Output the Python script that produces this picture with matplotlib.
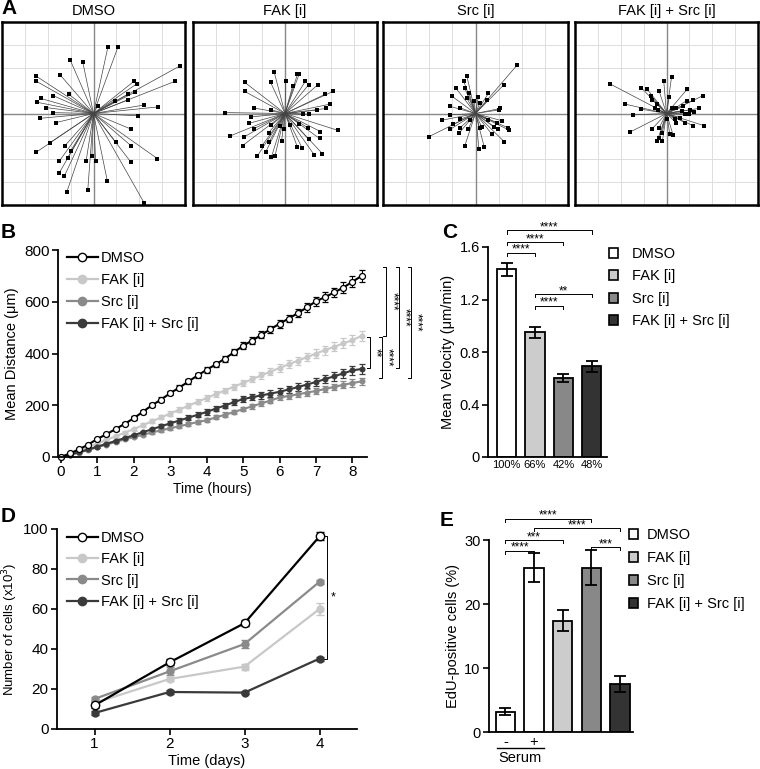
import matplotlib.pyplot as plt
from matplotlib.lines import Line2D
from matplotlib.patches import Patch

plt.rcParams['font.family'] = ['Liberation Sans', 'DejaVu Sans']

W, H = 760, 769

groups = ['DMSO', 'FAK [i]', 'Src [i]', 'FAK [i] + Src [i]']
line_colors = ['black', '#c8c8c8', '#8a8a8a', '#3a3a3a']
bar_colors = ['white', '#cccccc', '#888888', '#333333']

# A: end points of single-cell tracks (um), all tracks start at the origin
tracks_dmso = [(63, 291), (107, 291), (-101, 232), (-47, 225), (376, 207), (357, 141),
               (-250, 163), (-250, 141), (-146, 169), (176, 140), (188, 129), (181, 93),
               (-231, 66), (-246, 49), (-209, 26), (-176, 78), (-109, 85), (-179, 4),
               (-165, -40), (-234, -21), (93, 56), (149, 59), (221, 37), (284, 29),
               (193, -10), (166, -69), (-191, -128), (-250, -169), (-124, -140), (-99, -162),
               (163, -140), (97, -125), (-113, -194), (-150, -209), (-150, -260), (-128, -275),
               (-116, -341), (-25, -334), (-32, -206), (-7, -187), (9, -209), (60, -293),
               (163, -212), (279, -197), (221, -390), (19, 34), (151, 85)]
tracks_fak = [(-47, 181), (54, 171), (62, 174), (88, 140), (-176, 137), (-63, 137),
              (3, 144), (103, 126), (143, 126), (-176, 97), (34, 122), (210, 97),
              (176, 85), (196, 41), (-260, 4), (-135, 24), (-59, 16), (-147, -15),
              (140, 15), (179, 22), (78, -3), (106, -3), (-157, -43), (-240, -99),
              (-179, -103), (-135, -66), (-71, -84), (-59, -51), (-22, -54), (63, -44),
              (99, -62), (154, -79), (150, -109), (231, -74), (-184, -140), (-99, -140),
              (-69, -124), (-121, -187), (-84, -168), (-59, -190), (-44, -187), (54, -147),
              (74, -150), (128, -182), (162, -175), (103, -113), (-15, -121), (-4, -69),
              (22, -51)]
tracks_src = [(181, 213), (122, 125), (-37, 162), (-51, 141), (-47, 112), (-84, 110),
              (-28, 90), (-101, 75), (-37, 66), (12, 71), (-6, 56), (56, 88),
              (51, 59), (-109, 31), (-69, 26), (19, 46), (107, 22), (103, 16),
              (-143, -29), (-109, -6), (-96, -47), (-65, -25), (-69, -65), (-32, -69),
              (-109, -69), (-72, -87), (-47, -143), (-201, -101), (15, -157), (38, -147),
              (71, -91), (96, -69), (93, -40), (115, -32), (140, -62), (144, -72),
              (125, -124), (19, -65), (26, -57), (78, -57), (-25, -28), (56, -29)]
tracks_combo = [(-246, 129), (-110, 112), (-85, 107), (-12, 141), (22, 159), (-32, 97),
                (12, 74), (-69, 78), (-62, 59), (-181, 41), (-41, 41), (88, 56),
                (118, 59), (159, 78), (91, 107), (-51, 22), (-110, 19), (-37, 16),
                (-147, -6), (22, 22), (41, 26), (74, 31), (66, 12), (81, -3),
                (100, -3), (103, 16), (140, 22), (122, 7), (166, -54), (118, -54),
                (81, -40), (41, -40), (59, -18), (-159, -81), (-62, -66), (-19, -84),
                (15, -91), (29, -94), (-32, -62), (-41, -121), (-18, -121), (-32, -109),
                (3, -25), (37, -25)]

# B: mean distance over time
hours = [0, 0.25, 0.5, 0.75, 1, 1.25, 1.5, 1.75, 2, 2.25, 2.5, 2.75, 3, 3.25, 3.5, 3.75, 4,
         4.25, 4.5, 4.75, 5, 5.25, 5.5, 5.75, 6, 6.25, 6.5, 6.75, 7, 7.25, 7.5, 7.75, 8, 8.25]
dist_dmso = [0, 14, 30, 48, 70, 88, 108, 128, 150, 175, 200, 222, 247, 268, 292, 315, 337,
             358, 380, 405, 430, 450, 472, 494, 515, 535, 556, 578, 602, 618, 636, 655, 677, 700]
dist_fak = [0, 11, 24, 38, 52, 66, 80, 94, 108, 123, 138, 153, 168, 183, 198, 213, 228,
            243, 257, 272, 286, 301, 315, 330, 344, 358, 372, 386, 400, 413, 426, 439, 452, 468]
dist_src = [0, 8, 17, 27, 38, 48, 58, 68, 77, 86, 95, 103, 111, 119, 127, 135, 142,
            153, 163, 174, 185, 196, 207, 218, 230, 236, 242, 249, 255, 263, 271, 279, 286, 292]
dist_combo = [0, 9, 19, 29, 40, 51, 62, 73, 84, 96, 107, 119, 130, 141, 152, 163, 174,
              187, 199, 212, 224, 231, 238, 245, 252, 261, 270, 280, 290, 301, 312, 323, 335, 340]
err_dmso = [0, 2, 3, 4, 5, 5, 6, 6, 7, 7, 8, 8, 9, 9, 10, 10, 11, 11, 12, 12, 13, 13, 14,
            14, 15, 15, 16, 16, 17, 18, 19, 20, 21, 22]
err_fak = [0, 2, 3, 3, 4, 5, 5, 6, 6, 7, 7, 8, 8, 9, 9, 10, 10, 11, 11, 12, 12, 13, 13,
           14, 14, 15, 15, 16, 17, 17, 18, 19, 19, 20]
err_src = [0, 1, 2, 2, 3, 3, 4, 4, 5, 5, 5, 6, 6, 7, 7, 7, 8, 8, 9, 9, 9, 10, 10, 11, 11,
           11, 12, 12, 13, 13, 13, 14, 14, 15]
err_combo = [0, 2, 2, 3, 4, 4, 5, 5, 6, 6, 7, 7, 8, 8, 9, 9, 10, 10, 11, 11, 12, 12, 13,
             13, 14, 14, 15, 15, 16, 16, 17, 17, 18, 19]

# C: mean velocity
velocity = [1.43, 0.95, 0.60, 0.69]
velocity_err = [0.05, 0.04, 0.03, 0.045]
velocity_pct = ['100%', '66%', '42%', '48%']

# D: cell numbers
days = [1, 2, 3, 4]
cells_dmso = [11.8, 33.3, 52.9, 96.3]
cells_fak = [13.0, 25.0, 31.2, 60.0]
cells_src = [15.0, 28.8, 42.5, 73.6]
cells_combo = [8.0, 18.5, 18.2, 35.2]
cells_err_dmso = [1.5, 1.5, 1.5, 2.0]
cells_err_fak = [1.0, 1.0, 1.5, 2.8]
cells_err_src = [1.0, 2.0, 2.2, 1.0]
cells_err_combo = [0.8, 1.0, 0.8, 1.0]

# E: EdU-positive cells
edu = [3.2, 25.7, 17.4, 25.7, 7.5]
edu_err = [0.6, 2.2, 1.6, 2.7, 1.3]
edu_colors = ['white', 'white', '#cccccc', '#888888', '#333333']

fig = plt.figure(figsize=(W / 100, H / 100), dpi=100)


def px_axes(x0, y0, x1, y1):
    return fig.add_axes([x0 / W, 1 - y1 / H, (x1 - x0) / W, (y1 - y0) / H])


def style_axes(ax, size=11):
    for s in ['top', 'right']:
        ax.spines[s].set_visible(False)
    for s in ['left', 'bottom']:
        ax.spines[s].set_linewidth(1.3)
    ax.tick_params(direction='out', length=4, width=1.2, labelsize=size, pad=2)


def bracket(ax, x1, x2, y, label, drop):
    ax.plot([x1, x1, x2, x2], [y - drop, y, y, y - drop], color='black', lw=0.7,
            clip_on=False)
    ax.text((x1 + x2) / 2, y, label, ha='center', va='baseline', fontsize=8.5)


def vbracket(ax, x, y1, y2, label, tick, tx):
    ax.plot([x - tick, x, x, x - tick], [y1, y1, y2, y2], color='black', lw=0.7,
            clip_on=False)
    ax.text(tx, (y1 + y2) / 2, label, rotation=270, ha='center', va='center', fontsize=8.5)


# ---- A: trajectory plots
boxes = [(2, 185), (193, 377), (383, 568), (575, 758)]
all_tracks = [tracks_dmso, tracks_fak, tracks_src, tracks_combo]
for (x0, x1), name, tracks in zip(boxes, groups, all_tracks):
    ax = px_axes(x0, 22, x1, 205)
    ax.set_xlim(-400, 400)
    ax.set_ylim(-400, 400)
    ax.set_xticks(range(-300, 301, 100))
    ax.set_yticks(range(-300, 301, 100))
    ax.grid(color='#dddddd', lw=0.7)
    ax.tick_params(length=0, labelbottom=False, labelleft=False)
    ax.axhline(0, color='#888888', lw=1.0)
    ax.axvline(0, color='#888888', lw=1.0)
    for x, y in tracks:
        ax.plot([0, x], [0, y], color='#444444', lw=0.5)
    ax.plot([t[0] for t in tracks], [t[1] for t in tracks], 's', color='black', ms=2.6,
            mew=0)
    for s in ax.spines.values():
        s.set_linewidth(1.8)
    ax.set_title(name, fontsize=10.5, pad=5)

# ---- B: mean distance
ax = px_axes(58, 250, 367, 457)
style_axes(ax)
b_series = [(dist_fak, err_fak), (dist_src, err_src), (dist_combo, err_combo),
            (dist_dmso, err_dmso)]
b_order = [1, 2, 3, 0]
for (vals, errs), i in zip(b_series, b_order):
    c = line_colors[i]
    ax.errorbar(hours, vals, yerr=errs, color=c, lw=1.5, marker='o',
                ms=4.3 if i == 0 else 3.4, mfc='white' if i == 0 else c, mec=c,
                mew=0.9, capsize=2, elinewidth=0.8, capthick=0.8, clip_on=False)
ax.set_xlim(-0.08, 8.4)
ax.set_ylim(0, 800)
ax.set_xticks(range(0, 9))
ax.set_yticks(range(0, 801, 200))
ax.set_xlabel('Time (hours)', fontsize=10, labelpad=2)
ax.set_ylabel('Mean Distance (\u03bcm)', fontsize=10.5)
handles = [Line2D([], [], color=line_colors[i], lw=1.6, marker='o', ms=6,
                  mfc='white' if i == 0 else line_colors[i], mec=line_colors[i])
           for i in range(4)]
ax.legend(handles, groups, loc='upper left', bbox_to_anchor=(67 / W, 1 - 251 / H),
          bbox_transform=fig.transFigure, frameon=False, fontsize=10.5, borderpad=0,
          borderaxespad=0, handlelength=2.1, handletextpad=0.2, labelspacing=0.55)
vbracket(ax, 8.93, 736, 469, '****', 0.08, 9.09)
vbracket(ax, 9.27, 736, 343, '****', 0.08, 9.43)
vbracket(ax, 9.60, 736, 304, '****', 0.08, 9.76)
vbracket(ax, 8.475, 464, 343, '**', 0.08, 8.64)
vbracket(ax, 8.80, 464, 304, '****', 0.08, 8.97)

# ---- C: mean velocity
ax = px_axes(488, 247, 607, 457)
style_axes(ax, 10.5)
xs = range(4)
ax.bar(xs, velocity, width=0.67, color=bar_colors, edgecolor='black', lw=1.3,
       yerr=velocity_err, capsize=4, error_kw=dict(elinewidth=1.3, capthick=1.3))
ax.set_xlim(-0.65, 3.53)
ax.set_ylim(0, 1.6)
ax.set_yticks([0, 0.4, 0.8, 1.2, 1.6])
ax.set_yticklabels(['0', '0.4', '0.8', '1.2', '1.6'])
ax.set_xticks(list(xs))
ax.set_xticklabels(velocity_pct, fontsize=8)
ax.tick_params(axis='x', length=0)
ax.set_ylabel('Mean Velocity (\u03bcm/min)', fontsize=10.5, labelpad=3)
bracket(ax, 0, 1, 1.556, '****', 0.025)
bracket(ax, 0, 2, 1.638, '****', 0.025)
bracket(ax, 0, 3, 1.727, '****', 0.025)
bracket(ax, 1, 2, 1.154, '****', 0.025)
bracket(ax, 1, 3, 1.241, '**', 0.025)
patches = [Patch(facecolor=c, edgecolor='black', lw=1.2) for c in bar_colors]
ax.legend(patches, groups, loc='upper left', bbox_to_anchor=(609 / W, 1 - 247 / H),
          bbox_transform=fig.transFigure, frameon=False, fontsize=10.5, borderpad=0,
          borderaxespad=0, handlelength=0.65, handleheight=0.65, handletextpad=0.9,
          labelspacing=0.58)

# ---- D: cell number
ax = px_axes(57, 529, 357, 729)
style_axes(ax)
d_series = [(cells_fak, cells_err_fak), (cells_src, cells_err_src),
            (cells_combo, cells_err_combo), (cells_dmso, cells_err_dmso)]
for (vals, errs), i in zip(d_series, b_order):
    c = line_colors[i]
    ax.errorbar(days, vals, yerr=errs, color=c, lw=1.6, marker='o',
                ms=6 if i == 0 else 5, mfc='white' if i == 0 else c, mec=c,
                mew=1.0, capsize=3, elinewidth=1.2, capthick=1.2, clip_on=False)
ax.set_xlim(0.5, 4.5)
ax.set_ylim(0, 100)
ax.set_xticks(days)
ax.set_yticks(range(0, 101, 20))
ax.set_xlabel('Time (days)', fontsize=10.5, labelpad=2)
ax.set_ylabel('Number of cells (x10$^3$)', fontsize=9.5, labelpad=2)
ax.legend(handles, groups, loc='upper left', bbox_to_anchor=(67 / W, 1 - 531 / H),
          bbox_transform=fig.transFigure, frameon=False, fontsize=10.5, borderpad=0,
          borderaxespad=0, handlelength=2.1, handletextpad=0.2, labelspacing=0.5)
ax.plot([4.05, 4.10, 4.10, 4.05], [96.3, 96.3, 35.2, 35.2], color='black', lw=0.7,
        clip_on=False)
ax.text(4.18, 66, '*', ha='center', va='center', fontsize=9)

# ---- E: EdU incorporation
ax = px_axes(489, 540, 633, 732)
style_axes(ax, 10.5)
xe = range(5)
ax.bar(xe, edu, width=0.67, color=edu_colors, edgecolor='black', lw=1.3,
       yerr=edu_err, capsize=4, error_kw=dict(elinewidth=1.3, capthick=1.3))
ax.set_xlim(-0.57, 4.45)
ax.set_ylim(0, 30)
ax.set_yticks([0, 10, 20, 30])
ax.set_xticks([0, 1])
ax.set_xticklabels(['-', '+'], fontsize=10.5)
ax.tick_params(axis='x', length=0)
ax.set_ylabel('EdU-positive cells (%)', fontsize=10.5, labelpad=3)
ax.plot([-0.3, 1.34], [-0.083, -0.083], color='black', lw=1.0, clip_on=False,
        transform=ax.get_xaxis_transform())
ax.text(0.52, -0.1, 'Serum', ha='center', va='top', fontsize=10.5,
        transform=ax.get_xaxis_transform())
bracket(ax, 0, 1, 28.3, '****', 0.45)
bracket(ax, 0, 2, 30.0, '***', 0.45)
bracket(ax, 0, 3, 33.3, '****', 0.45)
bracket(ax, 1, 4, 31.8, '****', 0.45)
bracket(ax, 3, 4, 28.9, '***', 0.45)
ax.legend(patches, groups, loc='upper left', bbox_to_anchor=(629 / W, 1 - 528 / H),
          bbox_transform=fig.transFigure, frameon=False, fontsize=10.5, borderpad=0,
          borderaxespad=0, handlelength=0.65, handleheight=0.65, handletextpad=0.6,
          labelspacing=0.62)

# panel letters
for letter, x, y in [('A', 1, 9), ('B', 1, 233), ('C', 442, 232), ('D', 1, 517),
                     ('E', 440, 520)]:
    fig.text(x / W, 1 - y / H, letter, fontsize=15, fontweight='bold', ha='left',
             va='center')

fig.savefig('out.png', dpi=100)
